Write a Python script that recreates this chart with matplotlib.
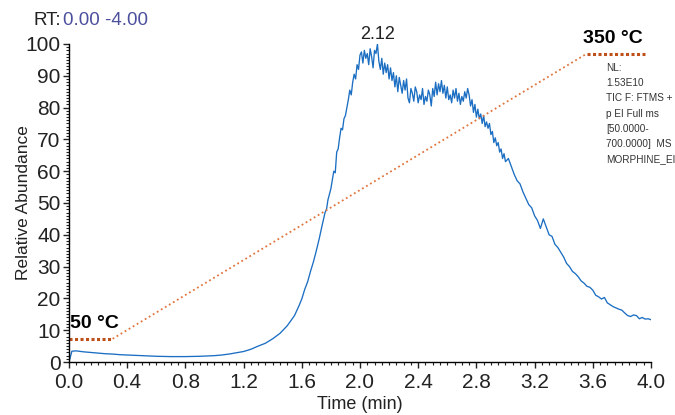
import matplotlib
matplotlib.use("Agg")
import matplotlib.pyplot as plt
from matplotlib.ticker import MultipleLocator

# TIC trace (time in min, relative abundance in %)
time_early = [0.00, 0.02, 0.05, 0.10, 0.15, 0.20, 0.25, 0.30, 0.35, 0.40, 0.50,
              0.60, 0.70, 0.80, 0.90, 1.00, 1.05, 1.10, 1.15, 1.20, 1.25, 1.30,
              1.35, 1.40, 1.45, 1.50, 1.55, 1.58, 1.60, 1.62, 1.64, 1.66, 1.68,
              1.70, 1.72, 1.74, 1.76, 1.77, 1.78, 1.80, 1.82, 1.83, 1.84, 1.85]
abund_early = [0.0, 3.4, 3.5, 3.2, 3.0, 2.8, 2.6, 2.5, 2.3, 2.2, 2.0,
               1.8, 1.7, 1.7, 1.8, 2.0, 2.2, 2.5, 2.9, 3.3, 4.0, 5.0,
               5.9, 7.3, 9.0, 11.4, 14.6, 17.6, 19.8, 22.8, 25.2, 28.5, 31.5,
               35.0, 38.8, 43.0, 47.0, 48.0, 51.0, 54.5, 60.0, 59.5, 66.0, 67.0]

# peak region, one reading every 0.01 min from 1.86 to 3.00
peak_start = 1.86
abund_peak = [70.5, 73.5, 73.0, 76.5, 77.5, 80.0, 82.5, 85.5, 84.0, 88.0,
              90.5, 89.0, 93.5, 92.0, 96.5, 97.5, 94.0, 98.0, 95.5, 97.0,
              93.5, 98.5, 96.0, 92.5, 98.0, 97.0, 100.0, 94.5, 92.0, 95.5,
              90.5, 94.0, 91.0, 93.5, 89.0, 92.5, 88.5, 91.0, 86.5, 90.0,
              85.0, 89.5, 87.0, 84.5, 88.5, 85.5, 89.0, 83.0, 81.5, 86.0,
              84.5, 82.0, 86.5, 85.0, 81.5, 84.0, 82.5, 86.0, 81.0, 83.5,
              82.0, 85.5, 84.0, 80.5, 86.0, 83.5, 88.0, 84.0, 87.5, 85.0,
              88.5, 84.5, 87.0, 83.0, 86.5, 82.5, 84.0, 81.5, 85.5, 83.0,
              86.0, 82.0, 84.5, 81.0, 83.5, 82.0, 85.0, 83.0, 86.0, 84.0,
              80.5, 82.5, 78.5, 81.0, 77.0, 79.5, 76.5, 78.0, 75.0, 77.5,
              74.0, 75.5, 73.5, 75.0, 71.5, 72.5, 69.0, 70.5, 68.0, 69.0,
              66.0, 67.0, 64.0, 65.5, 63.0]

# tail, one reading every 0.02 min from 3.02 to 4.00
tail_start = 3.02
abund_tail = [64.0, 61.5, 59.0, 57.0, 56.0, 53.5, 51.5, 49.5, 48.5, 46.0,
              44.5, 42.0, 45.0, 42.5, 40.0, 39.5, 37.0, 36.0, 34.5, 33.0,
              31.0, 30.0, 28.5, 27.8, 26.8, 25.5, 24.8, 23.8, 23.5, 22.6,
              21.0, 20.5, 19.8, 20.3, 18.6, 18.0, 17.4, 17.0, 16.6, 16.3,
              15.4, 14.6, 14.3, 14.8, 14.6, 13.6, 14.0, 13.5, 13.6, 13.3]

# oven program overlay (drawn on the abundance scale)
hold_lo_t = [0.0, 0.30]
hold_lo_y = [7.3, 7.3]
ramp_t = [0.30, 3.56]
ramp_y = [7.3, 97.0]
hold_hi_t = [3.56, 3.96]
hold_hi_y = [97.0, 97.0]
temp_lo = "50 °C"
temp_hi = "350 °C"

peak_label = "2.12"
peak_time = 2.12
info = "NL:\n1.53E10\nTIC F: FTMS +\np EI Full ms\n[50.0000-\n700.0000]  MS\nMORPHINE_EI"

time = list(time_early)
time += [round(peak_start + 0.01 * i, 2) for i in range(len(abund_peak))]
time += [round(tail_start + 0.02 * i, 2) for i in range(len(abund_tail))]
abund = abund_early + abund_peak + abund_tail

plt.rcParams["font.family"] = ["Liberation Sans", "DejaVu Sans"]

fig = plt.figure(figsize=(6.75, 4.15), dpi=100)
ax = fig.add_axes([0.1022, 0.1277, 0.8622, 0.7663])

ax.plot(time, abund, color="#1b6ec2", lw=0.95)

ax.plot(hold_lo_t, hold_lo_y, color="#c0501a", lw=2.2, ls=(0, (1, 0.8)))
ax.plot(ramp_t, ramp_y, color="#e0743c", lw=1.3, ls=(0, (1, 1.6)))
ax.plot(hold_hi_t, hold_hi_y, color="#c0501a", lw=2.2, ls=(0, (1, 0.8)))

ax.text(0.01, 9.5, temp_lo, fontsize=14, fontweight="bold", ha="left", va="bottom")
ax.text(3.74, 99.0, temp_hi, fontsize=14, fontweight="bold", ha="center", va="bottom")
ax.text(peak_time, 100.3, peak_label, fontsize=13, ha="center", va="bottom", color="#222222")
ax.text(3.69, 94.0, info, fontsize=7.2, ha="left", va="top", color="#333333", linespacing=1.65)

ax.set_xlim(0, 4.0)
ax.set_ylim(0, 100)
ax.xaxis.set_major_locator(MultipleLocator(0.4))
ax.xaxis.set_minor_locator(MultipleLocator(0.05))
ax.yaxis.set_major_locator(MultipleLocator(10))
ax.yaxis.set_minor_locator(MultipleLocator(1))
ax.set_xticklabels([f"{v:.1f}" for v in ax.get_xticks()])
ax.tick_params(axis="both", which="major", labelsize=15, length=4, width=1, colors="#222222")
ax.tick_params(axis="x", which="major", pad=4)
ax.tick_params(axis="y", which="major", pad=2)
ax.tick_params(axis="both", which="minor", length=2.5, width=0.8, colors="#222222")
for s in ("top", "right"):
    ax.spines[s].set_visible(False)
for s in ("left", "bottom"):
    ax.spines[s].set_linewidth(1.0)

ax.set_xlabel("Time (min)", fontsize=13, labelpad=3, color="#222222")
ax.set_ylabel("Relative Abundance", fontsize=12.5, color="#222222")
ax.yaxis.set_label_coords(-0.066, 0.5)

fig.text(0.049, 0.95, "RT:", fontsize=13.5, color="#222222", va="center")
fig.text(0.093, 0.95, "0.00 -4.00", fontsize=13.5, color="#4b4f9c", va="center")

fig.savefig("out.png", dpi=100)
